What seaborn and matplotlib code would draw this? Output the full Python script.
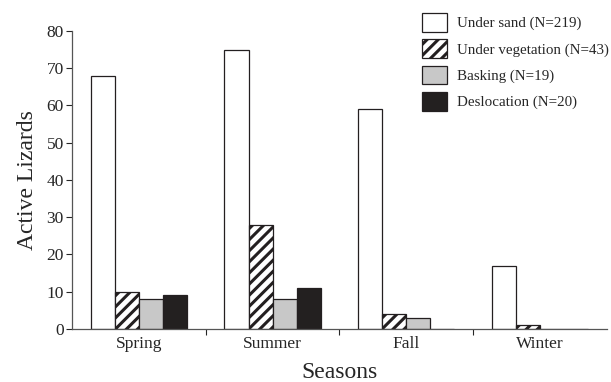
import pandas as pd
import matplotlib.pyplot as plt
import seaborn as sns

# Dados
seasons = ["Spring", "Summer", "Fall", "Winter"]
categories = ["Under sand (N=219)", "Under vegetation (N=43)", "Basking (N=19)", "Deslocation (N=20)"]
under_sand = [68, 75, 59, 17]
under_veg = [10, 28, 4, 1]
basking = [8, 8, 3, 0]
deslocation = [9, 11, 0, 0]

rows = []
for cat, vals in zip(categories, [under_sand, under_veg, basking, deslocation]):
    for s, v in zip(seasons, vals):
        rows.append({"Season": s, "Category": cat, "Value": v})
df = pd.DataFrame(rows)

sns.set_style("white")
plt.rcParams["font.family"] = ["Liberation Serif", "DejaVu Serif"]
plt.rcParams["hatch.linewidth"] = 2.2

fig = plt.figure(figsize=(6.11, 3.82), dpi=100)
ax = fig.add_axes([0.118, 0.139, 0.875, 0.78])

colors = ["white", "white", "#c8c8c8", "#231f20"]
sns.barplot(data=df, x="Season", y="Value", hue="Category", hue_order=categories,
            palette=colors, width=0.72, edgecolor="#231f20", linewidth=0.9,
            ax=ax, legend=True)

# Hachura para "Under vegetation"
for bar in ax.containers[1]:
    bar.set_hatch("///")

ax.set_ylim(0, 80)
ax.set_xlim(-0.5, 3.5)
ax.set_yticks(range(0, 81, 10))
ax.set_xlabel("Seasons", fontsize=17, labelpad=7)
ax.set_ylabel("Active Lizards", fontsize=17, labelpad=6)
ax.tick_params(axis="y", labelsize=12.5, length=4, width=0.8, direction="out", left=True, pad=2)
ax.tick_params(axis="x", labelsize=12.5, length=0, pad=5)
ax.set_xticks([0.5, 1.5, 2.5], minor=True)
ax.tick_params(axis="x", which="minor", length=4, width=0.8, direction="out", bottom=True)

for side in ["top", "right"]:
    ax.spines[side].set_visible(False)
for side in ["left", "bottom"]:
    ax.spines[side].set_color("#555555")
    ax.spines[side].set_linewidth(0.9)

handles, labels = ax.get_legend_handles_labels()
for h in handles:
    h.set_edgecolor("#231f20")
handles[1].set_hatch("///")
ax.legend(handles, labels, loc="upper left", bbox_to_anchor=(0.691, 0.966),
          bbox_transform=fig.transFigure, frameon=False, fontsize=10.8,
          borderpad=0, borderaxespad=0,
          handlelength=1.64, handleheight=1.55, labelspacing=0.5, handletextpad=0.65)

fig.savefig("out.png", dpi=100)
